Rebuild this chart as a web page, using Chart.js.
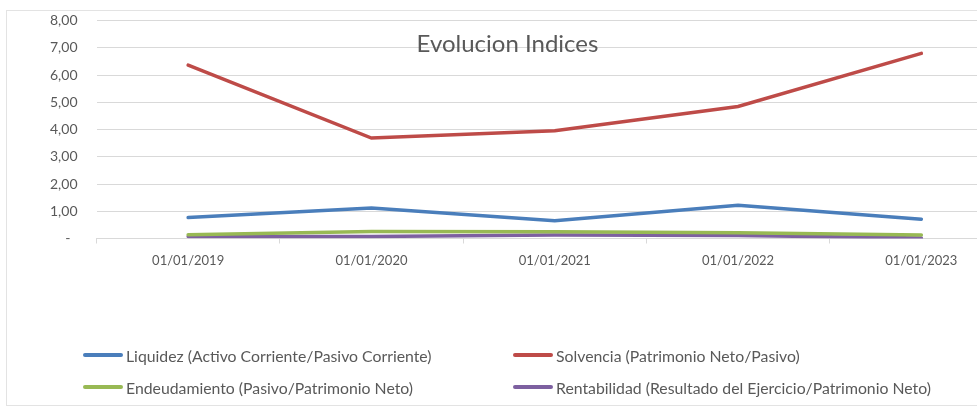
<!DOCTYPE html>
<html>
<head>
<meta charset="utf-8">
<script src="https://cdn.jsdelivr.net/npm/chart.js@4"></script>
<style>
  html, body { margin: 0; padding: 0; background: #fff; overflow: hidden; }
  #wrap { position: absolute; left: 0; top: 0; width: 1015px; height: 409px; }
  #frame { position: absolute; left: 6px; top: 10px; width: 1100px; height: 396px; border: 1px solid #e3e3e3; box-sizing: border-box; pointer-events: none; }
  #title { position: absolute; left: 0; width: 1015px; top: 28px; text-align: center; font-family: Lato, sans-serif; font-size: 24px; color: #595959; }
  #legend { position: absolute; left: 0; top: 0; font-family: Lato, sans-serif; font-size: 15.8px; color: #595959; }
  .item { position: absolute; display: flex; align-items: center; white-space: nowrap; }
  .swatch { width: 40px; height: 4px; margin-right: 3px; border-radius: 2px; }
</style>
</head>
<body>
<div id="wrap">
  <canvas id="c" width="1015" height="409"></canvas>
  <div id="frame"></div>
  <div id="title">Evolucion Indices</div>
  <div id="legend"></div>
</div>
<script>
const categories = ['01/01/2019', '01/01/2020', '01/01/2021', '01/01/2022', '01/01/2023'];
const liquidez = [0.77, 1.12, 0.65, 1.22, 0.71];
const solvencia = [6.37, 3.69, 3.96, 4.85, 6.80];
const endeudamiento = [0.14, 0.26, 0.25, 0.21, 0.13];
const rentabilidad = [0.07, 0.07, 0.13, 0.11, 0.02];
const seriesNames = [
  'Liquidez (Activo Corriente/Pasivo Corriente)',
  'Solvencia (Patrimonio Neto/Pasivo)',
  'Endeudamiento (Pasivo/Patrimonio Neto)',
  'Rentabilidad (Resultado del Ejercicio/Patrimonio Neto)'
];
const yTicks = [0, 1, 2, 3, 4, 5, 6, 7, 8];

const colors = ['#4a7ebb', '#be4b48', '#98b954', '#7d60a0'];
const seriesData = [liquidez, solvencia, endeudamiento, rentabilidad];

const datasets = seriesData.map((d, i) => ({
  label: seriesNames[i],
  data: d,
  borderColor: colors[i],
  backgroundColor: colors[i],
  borderWidth: 3.5,
  pointRadius: 0,
  tension: 0,
  borderCapStyle: 'round'
}));

const legendPos = [
  { x: 83, y: 355 }, { x: 513, y: 355 },
  { x: 83, y: 387 }, { x: 513, y: 387 }
];

const htmlLegend = {
  id: 'htmlLegend',
  afterUpdate(chart) {
    const el = document.getElementById('legend');
    el.innerHTML = '';
    chart.data.datasets.forEach((ds, i) => {
      const it = document.createElement('div');
      it.className = 'item';
      it.style.left = legendPos[i].x + 'px';
      it.style.top = (legendPos[i].y - 10) + 'px';
      it.style.height = '20px';
      const sw = document.createElement('span');
      sw.className = 'swatch';
      sw.style.background = ds.borderColor;
      const tx = document.createElement('span');
      tx.textContent = ds.label;
      it.appendChild(sw); it.appendChild(tx);
      el.appendChild(it);
    });
  }
};

new Chart(document.getElementById('c'), {
  type: 'line',
  data: { labels: categories, datasets },
  options: {
    responsive: false,
    animation: false,
    layout: { padding: { top: 20.7, right: 2, bottom: 140, left: 0 } },
    plugins: { legend: { display: false }, title: { display: false }, tooltip: { enabled: false } },
    scales: {
      x: {
        offset: true,
        grid: { display: true, drawOnChartArea: false, drawTicks: true, tickLength: 5, color: '#d9d9d9', offset: true },
        border: { display: true, color: '#d9d9d9' },
        ticks: { color: '#595959', font: { family: 'Lato', size: 13 }, padding: 10, maxRotation: 0 },
        afterFit(s) { s.height = 409 - 140 - 238.5; }
      },
      y: {
        min: 0, max: 8,
        afterBuildTicks(s) { s.ticks = yTicks.map(v => ({ value: v })); },
        grid: { color: '#d9d9d9', drawTicks: true, tickLength: 17, tickColor: 'rgba(0,0,0,0)', lineWidth: 1 },
        border: { display: false },
        ticks: {
          color: '#595959', font: { family: 'Lato', size: 14 }, padding: 2,
          callback: v => v === 0 ? '-  ' : v.toFixed(2).replace('.', ',')
        },
        afterFit(s) { s.width = 96.5; }
      }
    }
  },
  plugins: [htmlLegend]
});
</script>
</body>
</html>
